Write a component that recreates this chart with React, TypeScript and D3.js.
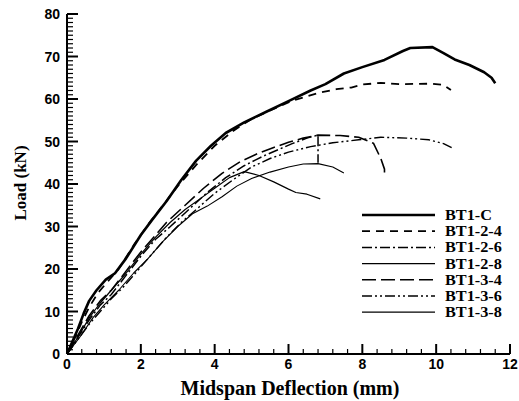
import * as d3 from 'd3';

// deflection (mm), load (kN)
const bt1C: [number, number][] = [
  [0, 0], [0.15, 3], [0.3, 6], [0.45, 9.5], [0.6, 12.5], [0.8, 15], [1.05, 17.5], [1.3, 19],
  [1.6, 22.5], [2.0, 28], [2.3, 31.5], [2.7, 36], [3.1, 41], [3.5, 45.5], [3.9, 49], [4.3, 52],
  [4.8, 54.5], [5.4, 57], [6.0, 59.5], [6.6, 62], [7.0, 63.5], [7.5, 66], [8.0, 67.5], [8.6, 69.2],
  [9.1, 71.3], [9.3, 72], [9.9, 72.2], [10.2, 70.8], [10.5, 69.3], [10.9, 68], [11.3, 66.3],
  [11.5, 65], [11.6, 63.7],
];
const bt124: [number, number][] = [
  [0, 0], [0.2, 3.5], [0.4, 7.5], [0.6, 11], [0.85, 14.5], [1.1, 17], [1.4, 20], [1.8, 25.5],
  [2.2, 30.5], [2.6, 35], [3.0, 39.5], [3.5, 44.5], [4.0, 49], [4.5, 52.5], [5.0, 55.3],
  [5.5, 57.3], [6.1, 59.6], [6.8, 61.4], [7.3, 62.3], [7.7, 62.7], [8.0, 63.4], [8.5, 63.8],
  [9.0, 63.5], [9.9, 63.6], [10.2, 63.3], [10.4, 62.1],
];
const bt126: [number, number][] = [
  [0, 0], [0.3, 4], [0.6, 8], [0.9, 11.5], [1.2, 14], [1.6, 18.5], [2.0, 23], [2.4, 27],
  [2.8, 30], [3.3, 34], [3.8, 38], [4.3, 41.5], [4.8, 44.3], [5.3, 46.5], [5.7, 48], [6.1, 49.5],
  [6.5, 50.8], [6.8, 51.5], [6.8, 45],
];
const bt128: [number, number][] = [
  [0, 0], [0.35, 4], [0.7, 8.5], [1.0, 11.5], [1.4, 15], [1.8, 19], [2.2, 22.5], [2.6, 26.5],
  [3.0, 30], [3.4, 33], [3.8, 34.8], [4.2, 37], [4.6, 39.5], [5.0, 41.3], [5.5, 42.8], [6.0, 44],
  [6.4, 44.7], [6.8, 44.8], [7.2, 44], [7.5, 42.6],
];
const bt134: [number, number][] = [
  [0, 0], [0.3, 4.5], [0.6, 9], [0.9, 12.5], [1.2, 15], [1.6, 19.5], [2.0, 24], [2.4, 28],
  [2.7, 31], [3.2, 35], [3.7, 39], [4.2, 42.5], [4.7, 45.3], [5.2, 47.3], [5.6, 48.6], [6.0, 49.8],
  [6.4, 50.8], [6.8, 51.5], [7.4, 51.4], [7.9, 51], [8.3, 49.6], [8.5, 46], [8.6, 43.5], [8.6, 41.6],
];
const bt136: [number, number][] = [
  [0, 0], [0.3, 3.5], [0.6, 7], [0.9, 10], [1.2, 13], [1.5, 15.5], [1.9, 19.5], [2.3, 23.5],
  [2.7, 27.5], [3.1, 31], [3.5, 34], [4.0, 37.8], [4.5, 41], [5.0, 44], [5.5, 46], [6.0, 47.5],
  [6.6, 48.8], [7.2, 49.7], [7.9, 50.4], [8.5, 51], [9.2, 50.8], [9.8, 50.4], [10.2, 49.5],
  [10.45, 48.4],
];
const bt138: [number, number][] = [
  [0, 0], [0.3, 4], [0.6, 8.5], [0.9, 12], [1.2, 15], [1.6, 19], [2.0, 23.5], [2.4, 27.5],
  [2.8, 31], [3.2, 34], [3.6, 36.5], [4.0, 39], [4.4, 41.5], [4.8, 42.9], [5.2, 42], [5.6, 40.5],
  [6.0, 38.8], [6.2, 38], [6.5, 37.6], [6.86, 36.5],
];

const seriesNames = ['BT1-C', 'BT1-2-4', 'BT1-2-6', 'BT1-2-8', 'BT1-3-4', 'BT1-3-6', 'BT1-3-8'];
const seriesData = [bt1C, bt124, bt126, bt128, bt134, bt136, bt138];
const seriesStyle = [
  { w: 2.6, dash: '' },
  { w: 1.8, dash: '8,6' },
  { w: 1.5, dash: '10,3,2,3' },
  { w: 1.1, dash: '' },
  { w: 1.6, dash: '14,5' },
  { w: 1.4, dash: '10,3,2,3,2,3' },
  { w: 1.2, dash: '' },
];

const xTicks = [0, 2, 4, 6, 8, 10, 12];
const yTicks = [0, 10, 20, 30, 40, 50, 60, 70, 80];

export default function App() {
  const x = d3.scaleLinear().domain([0, 12]).range([67, 510]);
  const y = d3.scaleLinear().domain([0, 80]).range([354, 14]);
  const line = d3.line<[number, number]>().x(d => x(d[0])).y(d => y(d[1]));

  const xMinor = d3.range(0, 12.001, 0.4);
  const yMinor = d3.range(0, 80.001, 1);
  const serif = '"Liberation Serif", "Times New Roman", serif';
  const sans = '"Liberation Sans", Arial, sans-serif';

  return (
    <svg width={519} height={401} style={{ position: 'absolute', left: 0, top: 0, background: '#fff' }}>
      {/* axes */}
      <line x1={x(0)} x2={x(0)} y1={y(0)} y2={y(80)} stroke="#000" strokeWidth={2} />
      <line x1={x(0)} x2={x(12)} y1={y(0)} y2={y(0)} stroke="#000" strokeWidth={2} />
      {yMinor.map(v => (
        <line key={'ym' + v} x1={x(0)} x2={x(0) + (v % 10 === 0 ? 11 : 6)} y1={y(v)} y2={y(v)}
          stroke="#000" strokeWidth={v % 10 === 0 ? 2 : 1.2} />
      ))}
      {xMinor.map((v, i) => (
        <line key={'xm' + i} x1={x(v)} x2={x(v)} y1={y(0)} y2={y(0) - (i % 5 === 0 ? 10 : 5)}
          stroke="#000" strokeWidth={i % 5 === 0 ? 2 : 1.2} />
      ))}
      {yTicks.map(v => (
        <text key={'yt' + v} x={x(0) - 7} y={y(v)} dy="0.36em" textAnchor="end"
          fontFamily={sans} fontWeight="bold" fontSize={14}>{v}</text>
      ))}
      {xTicks.map(v => (
        <text key={'xt' + v} x={x(v)} y={y(0) + 15} textAnchor="middle"
          fontFamily={sans} fontWeight="bold" fontSize={14}>{v}</text>
      ))}
      <text x={290} y={395} textAnchor="middle" fontFamily={serif} fontWeight="bold" fontSize={20}>
        Midspan Deflection (mm)
      </text>
      <text transform="translate(26,183) rotate(-90)" textAnchor="middle" fontFamily={serif}
        fontWeight="bold" fontSize={17}>Load (kN)</text>

      {/* curves */}
      {seriesData.map((s, i) => (
        <path key={'s' + i} d={line(s) ?? ''} fill="none" stroke="#000"
          strokeWidth={seriesStyle[i].w} strokeDasharray={seriesStyle[i].dash}
          strokeLinejoin="round" />
      ))}

      {/* legend */}
      {seriesNames.map((name, i) => {
        const ly = 215 + i * 16.2;
        return (
          <g key={'lg' + name}>
            <line x1={362} x2={435} y1={ly} y2={ly} stroke="#000"
              strokeWidth={seriesStyle[i].w} strokeDasharray={seriesStyle[i].dash} />
            <text transform={`translate(445,${ly}) scale(1.12,1)`} dy="0.35em" fontFamily={serif}
              fontWeight="bold" fontSize={14.5}>{name}</text>
          </g>
        );
      })}
    </svg>
  );
}
